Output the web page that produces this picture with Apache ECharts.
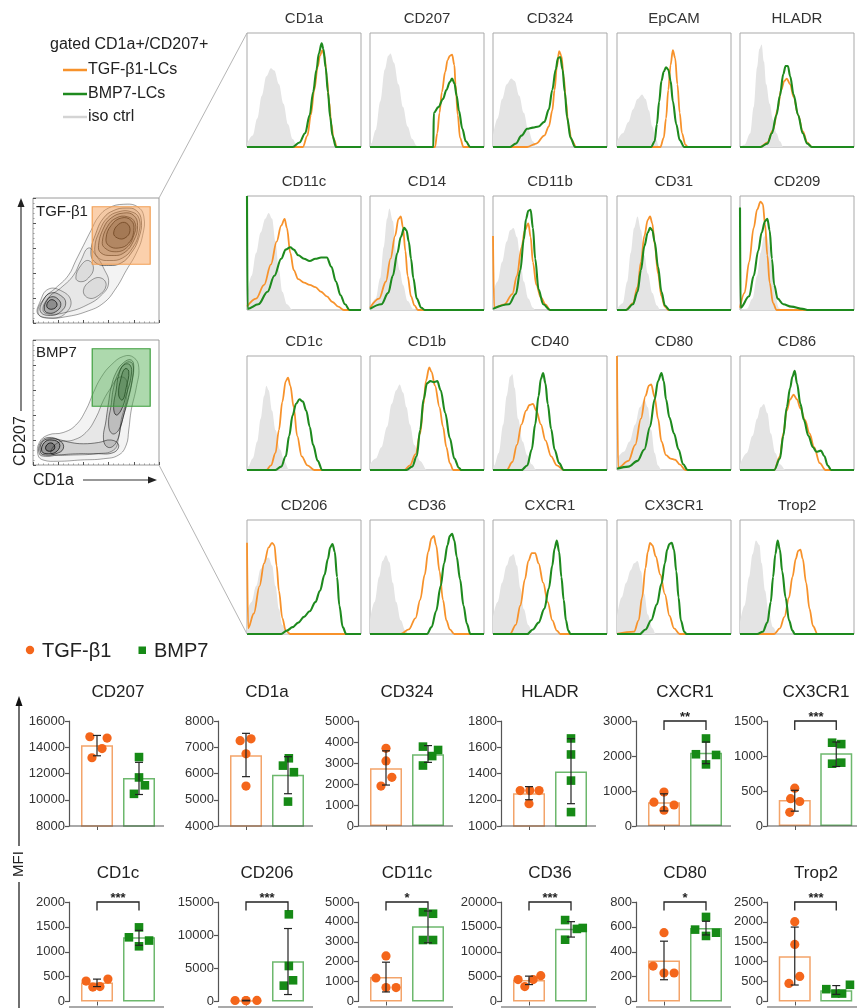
<!DOCTYPE html>
<html>
<head>
<meta charset="utf-8">
<title>TGF-b1 vs BMP7 LCs</title>
<script src="https://cdn.jsdelivr.net/npm/echarts@6/dist/echarts.min.js"></script>
<style>
html, body { margin: 0; padding: 0; background: #fff; }
#main { width: 857px; height: 1008px; }
</style>
</head>
<body>
<div id="main"></div>
<script>
var FONT = '"Liberation Sans", Arial, Helvetica, sans-serif';
var ORANGE = '#f7922b', GREEN = '#1e8a1e', ISO_FILL = '#e4e4e4';

// ---- flow histograms: x = % of fluorescence axis, y = % of panel height ----
var histMarkers = ['CD1a', 'CD207', 'CD324', 'EpCAM', 'HLADR',
    'CD11c', 'CD14', 'CD11b', 'CD31', 'CD209',
    'CD1c', 'CD1b', 'CD40', 'CD80', 'CD86',
    'CD206', 'CD36', 'CXCR1', 'CX3CR1', 'Trop2'];

var isoCurves = [
    [[0,3],[5,10],[9,25],[13,45],[17,62],[21,69],[24,67],[28,55],[32,38],[36,20],[40,7],[44,1],[46,0]],
    [[1,3],[5,15],[9,40],[13,68],[16,80],[18,82],[21,74],[25,55],[29,35],[33,18],[37,7],[41,1],[43,0]],
    [[0,10],[4,25],[8,42],[12,55],[16,60],[19,58],[23,45],[27,30],[31,15],[35,5],[38,0]],
    [[0,5],[5,12],[10,22],[14,33],[18,42],[22,46],[25,42],[28,32],[31,18],[34,7],[37,0]],
    [[4,2],[9,12],[12,35],[15,70],[17,86],[19,90],[21,75],[23,55],[26,38],[29,24],[32,12],[35,5],[38,0]],
    [[0,12],[4,30],[8,50],[12,68],[16,80],[19,85],[22,80],[25,60],[28,35],[31,16],[35,5],[40,0]],
    [[0,2],[5,10],[9,28],[12,55],[15,80],[17,89],[20,78],[23,50],[26,35],[29,22],[33,8],[38,1],[40,0]],
    [[0,15],[4,25],[8,42],[12,60],[15,70],[18,72],[21,64],[24,45],[27,25],[31,10],[35,2],[37,0]],
    [[0,1],[5,6],[9,25],[12,50],[15,72],[18,82],[21,70],[24,48],[27,32],[31,15],[35,4],[38,0]],
    [[6,1],[11,10],[15,30],[18,50],[21,64],[23,67],[26,55],[28,35],[31,12],[34,2],[36,0]],
    [[1,3],[5,10],[9,25],[12,45],[15,65],[17,74],[19,70],[22,52],[25,35],[29,18],[33,7],[37,0]],
    [[0,5],[5,10],[10,20],[15,38],[19,58],[23,70],[26,75],[29,68],[32,55],[35,40],[39,22],[44,8],[50,0]],
    [[1,4],[5,15],[9,40],[12,65],[15,82],[17,84],[19,72],[22,45],[26,25],[30,13],[34,5],[38,0]],
    [[0,10],[6,16],[11,25],[16,40],[20,55],[24,62],[27,55],[30,35],[33,15],[36,4],[39,0]],
    [[0,5],[6,15],[11,30],[15,45],[18,55],[21,58],[24,50],[27,32],[31,15],[35,5],[40,0]],
    [[0,20],[4,28],[8,42],[12,57],[16,66],[19,67],[22,60],[25,42],[28,22],[31,8],[35,1],[37,0]],
    [[0,12],[4,28],[8,50],[11,64],[14,69],[17,63],[20,45],[23,28],[27,12],[31,3],[34,0]],
    [[0,15],[4,28],[8,45],[12,60],[15,68],[18,70],[21,60],[24,40],[27,22],[31,8],[35,0]],
    [[0,15],[4,32],[8,45],[12,56],[15,62],[18,64],[21,55],[24,35],[27,17],[31,5],[34,0]],
    [[0,10],[4,25],[8,50],[11,70],[14,82],[17,78],[19,62],[22,38],[25,20],[29,6],[33,0]]
];

var tgfCurves = [
    [[49,0],[53,10],[56,28],[59,50],[62,70],[64,80],[66,85],[68,80],[70,62],[72,40],[74,20],[76,7],[79,0]],
    [[57,0],[59,12],[61,30],[63,48],[66,66],[68,76],[70,80],[72,81],[74,72],[75,55],[77,28],[79,8],[82,0]],
    [[30,0],[38,3],[45,10],[49,18],[52,32],[54,50],[56,70],[58,84],[60,80],[62,62],[64,40],[66,20],[69,6],[73,0]],
    [[38,0],[41,8],[43,25],[45,50],[47,72],[49,85],[51,78],[53,55],[55,30],[57,12],[60,2],[62,0]],
    [[18,0],[24,4],[29,15],[33,33],[36,50],[39,58],[41,60],[44,55],[47,44],[51,28],[55,14],[59,4],[63,0]],
    [[0,3],[8,10],[15,22],[21,40],[26,60],[30,74],[33,80],[35,72],[38,50],[41,35],[45,27],[50,24],[55,22],[60,20],[65,16],[70,12],[75,7],[80,3],[85,0]],
    [[0,2],[8,10],[14,25],[18,45],[22,65],[25,80],[27,82],[29,72],[31,52],[33,30],[36,12],[39,4],[42,0]],
    [[0,65],[1,2],[10,5],[17,14],[21,30],[25,55],[28,70],[31,76],[33,64],[35,42],[38,22],[42,11],[46,5],[50,0]],
    [[8,0],[14,6],[18,20],[21,42],[24,65],[27,79],[29,82],[31,76],[33,58],[36,32],[39,12],[42,3],[45,0]],
    [[0,2],[4,15],[8,42],[12,72],[15,88],[18,95],[20,93],[22,75],[24,48],[26,24],[29,6],[32,0]],
    [[17,0],[21,4],[25,15],[28,35],[31,60],[34,78],[36,81],[38,74],[41,55],[44,30],[48,12],[53,4],[59,0]],
    [[30,0],[35,4],[40,14],[44,32],[47,58],[49,78],[52,90],[54,86],[57,74],[61,55],[64,38],[67,20],[70,6],[73,0]],
    [[12,0],[17,7],[21,22],[25,40],[29,52],[32,57],[35,58],[38,52],[42,40],[46,26],[51,12],[56,4],[62,0]],
    [[0,100],[1,2],[10,8],[16,22],[21,45],[25,65],[28,74],[30,75],[33,64],[36,45],[39,25],[43,13],[47,10],[51,9],[55,5],[60,0]],
    [[30,0],[35,12],[38,32],[41,52],[44,62],[47,66],[50,62],[53,54],[57,44],[61,32],[65,20],[70,6],[75,0]],
    [[0,80],[1,5],[6,18],[11,42],[15,62],[19,76],[22,80],[24,78],[26,60],[28,38],[31,14],[34,3],[38,0]],
    [[27,0],[34,4],[40,14],[44,30],[48,52],[51,72],[54,84],[56,86],[58,78],[61,55],[64,30],[67,12],[70,4],[74,0]],
    [[15,0],[20,8],[24,25],[28,48],[31,64],[34,71],[37,71],[40,62],[44,45],[48,28],[52,12],[56,3],[59,0]],
    [[15,2],[19,12],[22,32],[25,58],[27,72],[29,80],[31,78],[34,68],[38,52],[42,35],[46,16],[50,5],[55,0]],
    [[30,0],[35,5],[39,15],[43,32],[46,50],[49,66],[51,73],[53,74],[55,66],[58,45],[61,22],[64,7],[68,0]]
];

var bmpCurves = [
    [[40,0],[46,4],[51,12],[55,28],[58,48],[61,68],[63,82],[65.5,91],[67,86],[69,70],[71,48],[73,26],[75,10],[78,0]],
    [[55.5,0],[56,30],[60,35],[64,42],[67,50],[70,57],[72,60],[74,56],[76,45],[78,32],[81,16],[84,5],[88,0]],
    [[15,0],[20,3],[25,10],[30,16],[35,17],[40,18],[45,22],[49,33],[52,50],[55,68],[57,78],[59,79],[61,68],[63,48],[65,26],[68,8],[72,0]],
    [[30,0],[33,5],[35,20],[37,40],[39,58],[41,66],[43,70],[45,68],[47,58],[49,40],[52,20],[55,6],[59,0]],
    [[18,0],[24,3],[28,12],[32,28],[35,45],[38,64],[40,71],[42,71],[44,62],[47,46],[51,28],[55,12],[59,3],[63,0]],
    [[0,100],[0.5,1],[10,5],[18,16],[24,30],[30,45],[34,53],[38,55],[41,53],[45,48],[50,45],[55,43],[60,45],[65,46],[70,46],[74,38],[78,25],[82,13],[86,5],[90,0]],
    [[0,1],[10,5],[16,15],[20,30],[24,50],[27,64],[30,72],[32,70],[34,60],[36,45],[38,28],[41,10],[45,2],[48,0]],
    [[0,1],[14,5],[20,14],[24,35],[27,62],[29,80],[31,87],[33,88],[35,72],[37,45],[40,18],[44,5],[50,0]],
    [[8,0],[14,5],[18,16],[21,35],[24,56],[27,68],[29,72],[31,70],[33,60],[36,38],[39,16],[42,4],[46,0]],
    [[0,90],[0.5,2],[8,12],[12,30],[16,52],[19,68],[22,78],[24,80],[26,70],[28,45],[30,22],[33,10],[38,5],[45,3],[55,1],[60,0]],
    [[25,0],[30,3],[34,12],[37,30],[40,48],[43,58],[46,62],[49,60],[52,52],[55,38],[58,22],[62,8],[66,0]],
    [[32,0],[37,3],[41,12],[44,35],[47,62],[50,76],[53,78],[56,77],[59,78],[62,70],[66,50],[70,28],[74,10],[78,2],[80,0]],
    [[25,0],[30,4],[34,18],[37,40],[40,65],[42,80],[44,85],[46,76],[48,58],[51,36],[54,18],[58,6],[62,0]],
    [[0,1],[10,3],[18,8],[24,18],[29,38],[33,62],[36,78],[39,85],[41,78],[43,62],[46,46],[50,32],[54,18],[58,5],[62,0]],
    [[30,0],[35,10],[38,30],[41,55],[44,72],[46,82],[48,87],[50,76],[53,58],[56,44],[60,30],[64,20],[67,16],[71,17],[74,12],[77,4],[80,0]],
    [[30,0],[35,3],[40,6],[45,10],[50,15],[55,20],[60,28],[64,38],[68,52],[71,66],[73,76],[75,79],[77,72],[79,50],[81,25],[84,6],[87,0]],
    [[50,0],[54,6],[58,20],[62,42],[65,62],[68,78],[70,86],[72,88],[74,82],[76,68],[79,48],[82,25],[85,9],[88,0]],
    [[30,0],[35,4],[40,10],[45,22],[49,40],[52,60],[54,75],[56,82],[58,72],[60,50],[62,30],[64,12],[66,3],[68,0]],
    [[20,0],[25,4],[30,12],[35,26],[39,44],[42,62],[44,74],[46,79],[48,80],[50,74],[52,55],[54,32],[56,12],[59,2],[61,0]],
    [[15,0],[20,2],[24,10],[27,28],[29,50],[31,70],[33,82],[35,74],[37,55],[40,32],[43,12],[46,3],[48,0]]
];

// ---- CD1a x CD207 contour rings (% of plot) and gates ----
var tgfRings = [
    [[4,8],[9,20],[18,28],[28,38],[34,50],[40,62],[46,74],[52,85],[60,92],[72,95],[83,93],[88,85],[87,70],[82,56],[74,42],[66,28],[56,16],[42,9],[26,5],[12,4]],
    [[8,10],[12,20],[22,28],[32,38],[38,50],[44,60],[50,54],[56,44],[60,32],[54,22],[42,14],[28,9],[14,7]],
    [[40,26],[46,34],[54,36],[58,30],[52,22],[44,20]],
    [[34,36],[38,46],[44,50],[48,44],[44,36],[38,33]],
    [[4,7],[6,18],[12,27],[22,26],[30,18],[26,8],[16,4]],
    [[6,9],[8,18],[14,24],[22,22],[26,16],[22,9],[14,6]],
    [[9,11],[11,18],[15,21],[20,19],[22,14],[18,9],[12,8]],
    [[11,13],[13,18],[17,18],[19,14],[15,11]],
    [[46,56],[50,72],[56,84],[64,90],[74,92],[82,90],[86,82],[84,68],[78,56],[70,48],[60,46],[50,48]],
    [[49,60],[53,74],[59,84],[68,89],[78,89],[84,84],[84,72],[79,60],[71,52],[61,50],[52,52]],
    [[52,62],[56,76],[62,84],[72,88],[80,86],[83,78],[80,66],[72,56],[62,54],[54,56]],
    [[55,65],[59,77],[66,84],[75,85],[81,80],[80,70],[74,60],[65,57],[57,60]],
    [[58,68],[62,78],[70,84],[78,82],[80,74],[76,64],[68,60],[60,62]],
    [[64,72],[68,79],[74,80],[77,74],[73,68],[67,68]]
];
var tgfRingLevel = [1, 1, 1, 1, 1, 2, 3, 4, 2, 2, 3, 3, 4, 5];

var bmpRings = [
    [[4,8],[5,18],[12,24],[24,26],[34,32],[42,44],[48,58],[54,70],[62,80],[72,87],[80,86],[84,78],[82,62],[78,44],[76,28],[74,16],[68,8],[56,5],[38,4],[20,3],[8,4]],
    [[14,10],[20,18],[32,20],[42,26],[50,38],[56,52],[62,62],[68,70],[74,68],[74,52],[70,36],[68,22],[64,12],[50,9],[32,8],[18,8]],
    [[5,9],[6,18],[12,22],[22,20],[30,18],[40,17],[52,18],[62,20],[68,16],[64,10],[50,9],[36,9],[20,8],[10,7]],
    [[6,10],[7,18],[13,21],[22,19],[24,13],[18,9],[10,8]],
    [[7,11],[9,18],[15,20],[21,17],[19,11],[12,9]],
    [[10,13],[12,17],[16,17],[17,13],[13,11]],
    [[56,20],[58,36],[60,50],[62,62],[66,74],[72,82],[78,84],[80,78],[78,64],[74,48],[70,32],[66,18],[60,14]],
    [[60,32],[62,48],[64,62],[68,74],[74,82],[79,81],[79,70],[76,54],[72,40],[68,28],[63,25]],
    [[64,46],[66,60],[68,72],[72,80],[77,80],[78,72],[74,56],[70,44],[66,40]],
    [[68,56],[70,70],[73,77],[76,75],[74,62],[71,52]]
];
var bmpRingLevel = [1, 1, 2, 3, 4, 5, 2, 2, 3, 4];

var tgfGate = [47, 47, 93, 93];
var bmpGate = [47, 47, 93, 93];

// ---- MFI per donor ----
var barMarkers = ['CD207', 'CD1a', 'CD324', 'HLADR', 'CXCR1', 'CX3CR1',
    'CD1c', 'CD206', 'CD11c', 'CD36', 'CD80', 'Trop2'];
var axisMin = [8000, 4000, 0, 1000, 0, 0, 0, 0, 0, 0, 0, 0];
var axisMax = [16000, 8000, 5000, 1800, 3000, 1500, 2000, 15000, 5000, 20000, 800, 2500];
var axisStep = [2000, 1000, 1000, 200, 1000, 500, 500, 5000, 1000, 5000, 200, 500];

var tgfDonors = [
    [14800, 14700, 13900, 13200], [7250, 7320, 6750, 5520], [3700, 3100, 2320, 1900],
    [1270, 1270, 1270, 1170], [680, 970, 600, 450], [540, 390, 350, 195],
    [410, 290, 300, 450], [150, 120, 160, 140], [2290, 1180, 700, 700],
    [4400, 3000, 4400, 5200], [553, 285, 229, 229], [2006, 1433, 630, 454]
];
var bmpDonors = [
    [13250, 11700, 11100, 10450], [6580, 6300, 6050, 4930], [3780, 3620, 3330, 2880],
    [1667, 1545, 1346, 1106], [2500, 2050, 2030, 1760], [1190, 1170, 890, 905],
    [1290, 1490, 1225, 1110], [13140, 5350, 3200, 2390], [4490, 4410, 3090, 3090],
    [16370, 14590, 14780, 12420], [680, 578, 553, 527], [310, 200, 200, 420]
];
// horizontal spread of the donor dots, in fractions of a category band
var tgfSpread = [
    [-0.17, 0.24, 0.12, -0.12], [-0.14, 0.12, 0, 0], [0, 0, 0.14, -0.12],
    [-0.21, 0.02, 0.24, 0], [-0.24, 0, 0.24, 0], [0, -0.1, 0.12, -0.12],
    [-0.26, -0.1, 0.07, 0.26], [-0.26, 0, 0.26, 0], [0, -0.24, 0, 0.24],
    [-0.26, -0.1, 0.1, 0.28], [0, -0.26, 0, 0.24], [0, 0, 0.12, -0.14]
];
var bmpSpread = [
    [0, 0, 0.14, -0.12], [0.02, -0.12, 0.14, 0], [-0.12, 0.24, 0.1, -0.12],
    [0, 0, 0, 0], [0, -0.24, 0.24, 0], [-0.1, 0.12, -0.1, 0.12],
    [-0.24, 0, 0.24, 0], [0.02, 0.02, 0.12, -0.1], [-0.12, 0.12, -0.12, 0.12],
    [-0.14, 0.14, 0.28, -0.14], [0, -0.26, 0.24, 0], [-0.24, -0.02, 0.14, 0.33]
];
var tgfMean = [14150, 6700, 2750, 1250, 680, 370, 380, 140, 1230, 4300, 330, 1140];
var bmpMean = [11650, 5950, 3420, 1415, 2090, 1040, 1290, 6080, 3780, 14600, 590, 280];
var tgfLow = [13350, 5880, 1950, 1200, 430, 212, 300, 100, 480, 3400, 175, 414];
var tgfHigh = [14900, 7530, 3580, 1300, 920, 510, 450, 180, 1975, 5100, 485, 1870];
var bmpLow = [10400, 5230, 3030, 1170, 1780, 850, 1130, 1050, 2950, 12950, 535, 180];
var bmpHigh = [12850, 6640, 3830, 1665, 2400, 1200, 1430, 11000, 4550, 16050, 645, 400];
var sigLabels = ['', '', '', '', '**', '***', '***', '***', '*', '***', '*', '***'];

// ---------------------------------------------------------------
var grids = [], xAxes = [], yAxes = [], series = [], graphics = [];

function addGrid(g, xa, ya) {
    var gi = grids.length;
    grids.push(g);
    xa.gridIndex = gi;
    ya.gridIndex = gi;
    xAxes.push(xa);
    yAxes.push(ya);
    return gi;
}

function label(x, y, text, size, extra) {
    extra = extra || {};
    return {
        type: 'text', x: x, y: y, rotation: extra.rotation || 0, z: 50, silent: true,
        style: {
            text: text, fontSize: size, fontFamily: FONT, fontWeight: extra.weight || 'normal',
            fill: extra.color || '#222', align: extra.align || 'center', verticalAlign: 'middle'
        }
    };
}

function seg(x1, y1, x2, y2, color, w) {
    return {type: 'line', z: 50, silent: true, shape: {x1: x1, y1: y1, x2: x2, y2: y2}, style: {stroke: color, lineWidth: w}};
}

function head(points, color) {
    return {type: 'polygon', z: 50, silent: true, shape: {points: points}, style: {fill: color}};
}

function curveData(pts) {
    var d = pts.slice();
    if (d[0][0] > 0) d.unshift([0, 0]);
    if (d[d.length - 1][0] < 100) d.push([100, 0]);
    return d;
}

function histLine(gi, pts, stroke, width, fill) {
    var s = {
        type: 'line', xAxisIndex: gi, yAxisIndex: gi, data: curveData(pts), symbol: 'none',
        smooth: 0.35, smoothMonotone: 'x', clip: false, silent: true
    };
    if (fill) {
        s.lineStyle = {width: 0};
        s.itemStyle = {color: fill};
        s.areaStyle = {color: fill, opacity: 1};
        s.z = 1;
    } else {
        s.lineStyle = {color: stroke, width: width};
        s.itemStyle = {color: stroke};
        s.z = 2;
    }
    return s;
}

// histogram panels
var histLeft = [247, 370, 493, 617, 740];
var histTop = [33, 196, 356, 520];
histMarkers.forEach(function (name, i) {
    var left = histLeft[i % 5], top = histTop[Math.floor(i / 5)];
    var gi = addGrid(
        {left: left, top: top, width: 114, height: 114, show: true, borderColor: '#a9a9a9', borderWidth: 1, backgroundColor: '#fff'},
        {type: 'value', min: 0, max: 100, show: false},
        {type: 'value', min: 0, max: 100, show: false}
    );
    series.push(histLine(gi, isoCurves[i], null, 0, ISO_FILL));
    series.push(histLine(gi, tgfCurves[i], ORANGE, 1.8));
    series.push(histLine(gi, bmpCurves[i], GREEN, 2.1));
    graphics.push(label(left + 57, top - 14, name, 15, {color: '#333'}));
});

// contour plots
function contourPlot(top, rings, levels, gate, gateFill, gateStroke) {
    var tickAxis = function () {
        return {
            type: 'value', min: 0, max: 100, interval: 20,
            axisLine: {show: false},
            axisTick: {show: true, inside: true, length: 3, lineStyle: {color: '#555'}},
            minorTick: {show: true, splitNumber: 5, length: 1.5, lineStyle: {color: '#999'}},
            axisLabel: {show: false}, splitLine: {show: false}
        };
    };
    var gi = addGrid({left: 33, top: top, width: 126, height: 125, show: true, borderColor: '#9a9a9a', borderWidth: 1},
        tickAxis(), tickAxis());
    series.push({
        type: 'custom', xAxisIndex: gi, yAxisIndex: gi, silent: true, z: 2,
        data: rings.map(function (r, k) { return [k]; }),
        renderItem: function (params, api) {
            var k = api.value(0), lv = levels[k];
            var pts = rings[k].map(function (p) { return api.coord(p); });
            return {
                type: 'polygon', shape: {points: pts, smooth: 0.45},
                style: {fill: 'rgba(20,20,20,' + (0.05 * lv) + ')', stroke: 'rgba(0,0,0,' + (0.3 + 0.15 * lv) + ')', lineWidth: 0.8}
            };
        }
    });
    series.push({
        type: 'custom', xAxisIndex: gi, yAxisIndex: gi, silent: true, z: 5,
        data: [gate], encode: {x: [0, 2], y: [1, 3]},
        renderItem: function (params, api) {
            var a = api.coord([api.value(0), api.value(1)]);
            var b = api.coord([api.value(2), api.value(3)]);
            return {
                type: 'rect', shape: {x: a[0], y: b[1], width: b[0] - a[0], height: a[1] - b[1]},
                style: {fill: gateFill, stroke: gateStroke, lineWidth: 1.2}
            };
        }
    });
}
contourPlot(198, tgfRings, tgfRingLevel, tgfGate, 'rgba(247,150,70,0.45)', '#f2a055');
contourPlot(340, bmpRings, bmpRingLevel, bmpGate, 'rgba(60,165,60,0.42)', '#3f9f3f');

// MFI bar panels
function dotSeries(gi, cat, vals, spread, color, square) {
    return {
        type: 'custom', xAxisIndex: gi, yAxisIndex: gi, silent: true, z: 3,
        data: vals.map(function (v, k) { return [cat, v, spread[k]]; }),
        encode: {x: 0, y: 1},
        renderItem: function (params, api) {
            var p = api.coord([api.value(0), api.value(1)]);
            var band = api.size([1, 0])[0];
            var cx = p[0] + api.value(2) * band;
            if (square) {
                return {type: 'rect', shape: {x: cx - 4.3, y: p[1] - 4.3, width: 8.6, height: 8.6}, style: {fill: color}};
            }
            return {type: 'circle', shape: {cx: cx, cy: p[1], r: 4.6}, style: {fill: color}};
        }
    };
}

function errSeries(gi, lows, highs) {
    return {
        type: 'custom', xAxisIndex: gi, yAxisIndex: gi, silent: true, z: 4,
        data: [[0, lows[0], highs[0]], [1, lows[1], highs[1]]],
        encode: {x: 0, y: [1, 2]},
        renderItem: function (params, api) {
            var lo = api.coord([api.value(0), api.value(1)]);
            var hi = api.coord([api.value(0), api.value(2)]);
            var st = {stroke: '#222', lineWidth: 1.2};
            return {
                type: 'group', children: [
                    {type: 'line', shape: {x1: lo[0], y1: lo[1], x2: hi[0], y2: hi[1]}, style: st},
                    {type: 'line', shape: {x1: lo[0] - 4, y1: lo[1], x2: lo[0] + 4, y2: lo[1]}, style: st},
                    {type: 'line', shape: {x1: hi[0] - 4, y1: hi[1], x2: hi[0] + 4, y2: hi[1]}, style: st}
                ]
            };
        }
    };
}

function bracketSeries(gi, lo, hi) {
    return {
        type: 'custom', xAxisIndex: gi, yAxisIndex: gi, silent: true, z: 4,
        data: [[0, lo, 1, hi]], encode: {x: [0, 2], y: [1, 3]},
        renderItem: function (params, api) {
            var a = api.coord([0, api.value(1)]), b = api.coord([0, api.value(3)]);
            var c = api.coord([1, api.value(3)]), d = api.coord([1, api.value(1)]);
            return {type: 'polyline', shape: {points: [a, b, c, d]}, style: {stroke: '#222', lineWidth: 1.3, fill: null}};
        }
    };
}

var barAxisX = [69, 218, 358, 501, 636, 767];
var barTop = [721, 902];
var barTitleY = [692, 873];
var barH = 105;
barMarkers.forEach(function (name, i) {
    var row = Math.floor(i / 6), x0 = barAxisX[i % 6], top = barTop[row];
    var gi = addGrid(
        {left: x0 + 7, top: top, width: 84, height: barH},
        {
            type: 'category', data: ['TGF-β1', 'BMP7'],
            axisLine: {show: false},
            axisTick: {show: true, alignWithLabel: true, length: 4, lineStyle: {color: '#555', width: 1}},
            axisLabel: {show: false}, splitLine: {show: false}
        },
        {
            type: 'value', min: axisMin[i], max: axisMax[i], interval: axisStep[i], offset: 7,
            axisLine: {show: true, lineStyle: {color: '#555', width: 1.2}},
            axisTick: {show: true, length: 4, lineStyle: {color: '#555', width: 1.2}},
            axisLabel: {fontSize: 13, color: '#333', margin: 4, fontFamily: FONT, formatter: function (v) { return String(v); }},
            splitLine: {show: false}
        }
    );
    series.push({
        type: 'bar', xAxisIndex: gi, yAxisIndex: gi, barWidth: 32, silent: true, z: 2,
        data: [
            {value: tgfMean[i], itemStyle: {color: '#fff', borderColor: '#f3a46a', borderWidth: 1.5}},
            {value: bmpMean[i], itemStyle: {color: '#fff', borderColor: '#6db86d', borderWidth: 1.5}}
        ]
    });
    series.push(dotSeries(gi, 0, tgfDonors[i], tgfSpread[i], '#f4661b', false));
    series.push(dotSeries(gi, 1, bmpDonors[i], bmpSpread[i], '#168a16', true));
    series.push(errSeries(gi, [tgfLow[i], bmpLow[i]], [tgfHigh[i], bmpHigh[i]]));
    if (sigLabels[i]) {
        var leg = (axisMax[i] - axisMin[i]) * 0.085;
        series.push(bracketSeries(gi, axisMax[i] - leg, axisMax[i]));
        graphics.push(label(x0 + 49, top - 4, sigLabels[i], 13, {weight: 'bold'}));
    }
    graphics.push(seg(x0, top + barH, x0 + 95, top + barH, '#555', 1.2));
    graphics.push(label(x0 + 49, barTitleY[row], name, 17));
});

// legends, axis arrows and zoom lines
graphics.push(label(50, 45, 'gated CD1a+/CD207+', 16, {align: 'left'}));
graphics.push(seg(63, 70, 87, 70, ORANGE, 2.5));
graphics.push(label(88, 70, 'TGF-β1-LCs', 16, {align: 'left'}));
graphics.push(seg(63, 94, 87, 94, GREEN, 2.5));
graphics.push(label(88, 94, 'BMP7-LCs', 16, {align: 'left'}));
graphics.push(seg(63, 117, 87, 117, '#d4d4d4', 2.5));
graphics.push(label(88, 117, 'iso ctrl', 16, {align: 'left'}));

graphics.push(label(36, 212, 'TGF-β1', 15, {align: 'left'}));
graphics.push(label(36, 353, 'BMP7', 15, {align: 'left'}));
graphics.push(seg(21, 411, 21, 205, '#333', 1.2));
graphics.push(head([[17.5, 207], [24.5, 207], [21, 198]], '#222'));
graphics.push(label(21, 441, 'CD207', 16, {rotation: Math.PI / 2}));
graphics.push(seg(83, 480, 150, 480, '#333', 1.2));
graphics.push(head([[148, 476.5], [148, 483.5], [157, 480]], '#222'));
graphics.push(label(33, 481, 'CD1a', 16, {align: 'left'}));

graphics.push(seg(159, 198, 247, 33, '#b5b5b5', 1));
graphics.push(seg(159, 465, 247, 634, '#b5b5b5', 1));

graphics.push({type: 'circle', z: 50, silent: true, shape: {cx: 30, cy: 650, r: 4.2}, style: {fill: '#f4661b'}});
graphics.push(label(42, 651, 'TGF-β1', 20, {align: 'left'}));
graphics.push({type: 'rect', z: 50, silent: true, shape: {x: 138.5, y: 646.5, width: 7.5, height: 7.5}, style: {fill: '#168a16'}});
graphics.push(label(154, 651, 'BMP7', 20, {align: 'left'}));

graphics.push(seg(19, 1008, 19, 882, '#222', 1.3));
graphics.push(seg(19, 846, 19, 704, '#222', 1.3));
graphics.push(head([[15.5, 706], [22.5, 706], [19, 696]], '#111'));
graphics.push(label(19, 864, 'MFI', 15, {rotation: Math.PI / 2}));

var chart = echarts.init(document.getElementById('main'));
chart.setOption({
    animation: false,
    backgroundColor: '#fff',
    grid: grids,
    xAxis: xAxes,
    yAxis: yAxes,
    series: series,
    graphic: graphics
});
</script>
</body>
</html>
